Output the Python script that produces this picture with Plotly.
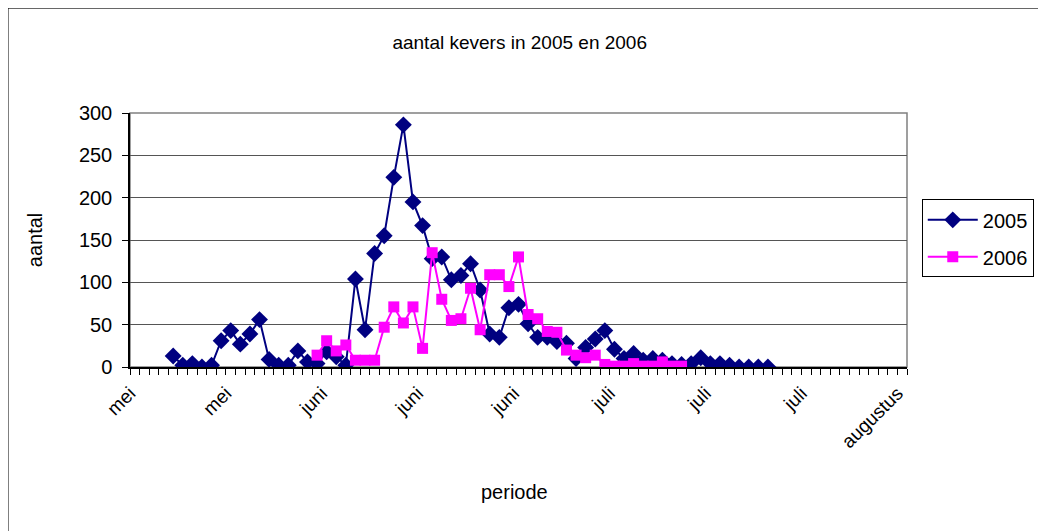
import plotly.graph_objects as go

# dagen vanaf het begin van de periode (categorie-index), 81 dagen
aantal_dagen = 81
tick_posities = [0, 10, 20, 30, 40, 50, 60, 70, 80]
tick_labels = ["mei", "mei", "juni", "juni", "juni", "juli", "juli", "juli", "augustus"]

# 2005 begint op dag 4
start_2005 = 4
aantal_2005 = [13, 2, 4, 0, 2, 31, 43, 27, 39, 56, 9, 2, 2, 19, 6, 4, 18, 12, 2,
               104, 44, 134, 155, 224, 286, 195, 167, 128, 130, 103, 108, 122, 91,
               39, 35, 70, 74, 51, 35, 35, 30, 28, 10, 23, 33, 43, 21, 10, 16, 8,
               10, 8, 4, 3, 4, 11, 4, 4, 2, 0, 0, 0, 0]

# 2006 begint op dag 19
start_2006 = 19
aantal_2006 = [14, 31, 19, 26, 8, 8, 8, 47, 71, 52, 71, 22, 135, 80, 55, 57, 93,
               44, 109, 109, 95, 130, 62, 57, 42, 41, 20, 14, 11, 14, 3, 1, 1, 4,
               1, 1, 6, 1, 1]

x_2005 = [start_2005 + i + 0.5 for i in range(len(aantal_2005))]
x_2006 = [start_2006 + i + 0.5 for i in range(len(aantal_2006))]

FONT = "Liberation Sans, Arial, sans-serif"

fig = go.Figure()

fig.add_trace(go.Scatter(
    x=x_2005, y=aantal_2005,
    mode="lines+markers",
    name="2005",
    legendgroup="a",
    line=dict(color="#000080", width=2),
    marker=dict(symbol="diamond", size=13, color="#000080"),
))

fig.add_trace(go.Scatter(
    x=x_2006, y=aantal_2006,
    mode="lines+markers",
    name="2006",
    legendgroup="b",
    line=dict(color="#FF00FF", width=2),
    marker=dict(symbol="square", size=11, color="#FF00FF"),
))

# buitenrand van de grafiek (links en boven)
fig.add_shape(type="line", xref="paper", yref="paper",
              x0=-0.157, x1=-0.157, y0=1.413, y1=-0.75,
              line=dict(color="black", width=1))
fig.add_shape(type="line", xref="paper", yref="paper",
              x0=-0.157, x1=1.3, y0=1.413, y1=1.413,
              line=dict(color="black", width=1))

# as-titels
fig.add_annotation(text="periode", xref="paper", yref="paper",
                   x=0.495, y=-0.492, xanchor="center", yanchor="middle",
                   showarrow=False,
                   font=dict(family=FONT, size=20, color="black"))
fig.add_annotation(text="aantal", xref="paper", yref="paper",
                   x=-0.122, y=0.5, xanchor="center", yanchor="middle",
                   textangle=-90, showarrow=False,
                   font=dict(family=FONT, size=20, color="black"))

fig.update_layout(
    width=1038,
    height=523,
    margin=dict(l=122, r=139, t=105, b=164),
    paper_bgcolor="white",
    plot_bgcolor="white",
    title=dict(
        text="aantal kevers in 2005 en 2006",
        font=dict(family=FONT, size=19, color="black"),
        x=0.493, xanchor="center",
        y=0.935, yanchor="middle",
    ),
    xaxis=dict(
        range=[0, aantal_dagen],
        tickvals=tick_posities,
        ticktext=tick_labels,
        tickangle=-45,
        ticks="outside",
        ticklen=6,
        tickcolor="black",
        showgrid=False,
        zeroline=False,
        showline=True,
        linecolor="black",
        linewidth=1.5,
        minor=dict(dtick=1, tick0=0, ticks="outside", ticklen=6, tickcolor="black", showgrid=False),
        tickfont=dict(family=FONT, size=19, color="black"),
    ),
    yaxis=dict(
        range=[0, 300],
        dtick=50,
        ticks="outside",
        ticklen=6,
        tickcolor="black",
        ticklabelstandoff=6,
        showgrid=True,
        gridcolor="#555555",
        gridwidth=1,
        zeroline=False,
        showline=True,
        linecolor="black",
        linewidth=1.5,
        tickfont=dict(family=FONT, size=20, color="black"),
    ),
    legend=dict(
        x=1.019, xanchor="left",
        y=0.66, yanchor="top",
        bordercolor="black",
        borderwidth=1,
        bgcolor="white",
        font=dict(family=FONT, size=20, color="black"),
        tracegroupgap=8,
        itemwidth=50,
    ),
    showlegend=True,
)

# rand van het plotgebied (grijs)
fig.add_shape(type="rect", xref="paper", yref="paper",
              x0=0, x1=1, y0=0, y1=1,
              line=dict(color="#808080", width=1.5), layer="below")

fig.write_html("out.html")
